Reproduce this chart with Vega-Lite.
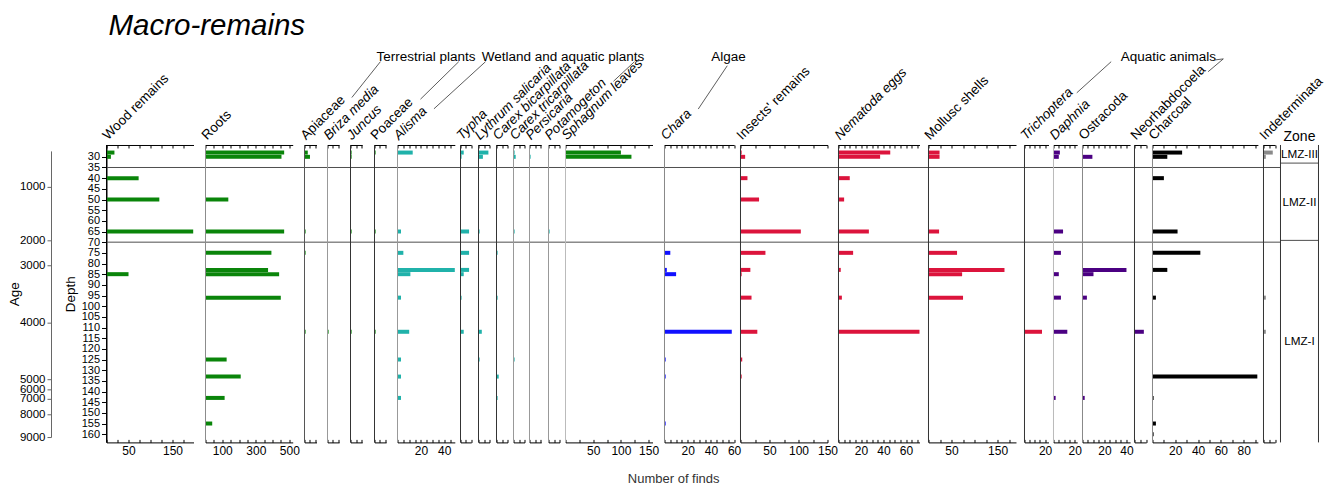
{
  "$schema": "https://vega.github.io/schema/vega-lite/v6.json",
  "background": "white",
  "padding": {"left": 6.5, "top": 11, "right": 0, "bottom": 0},
  "title": {"text": "Macro-remains", "anchor": "start", "frame": "group", "dx": 57, "offset": 8, "fontSize": 29.5, "fontStyle": "italic", "fontWeight": "normal", "font": "Liberation Sans", "color": "#000"},
  "spacing": 0,
  "bounds": "flush",
  "datasets": {
    "finds": [
      {"taxon": "Wood remains", "depth": 28, "count": 18}, {"taxon": "Wood remains", "depth": 30, "count": 10}, {"taxon": "Wood remains", "depth": 40, "count": 73}, {"taxon": "Wood remains", "depth": 50, "count": 120}, {"taxon": "Wood remains", "depth": 65, "count": 197}, {"taxon": "Wood remains", "depth": 85, "count": 50},
      {"taxon": "Roots", "depth": 28, "count": 469}, {"taxon": "Roots", "depth": 30, "count": 453}, {"taxon": "Roots", "depth": 50, "count": 136}, {"taxon": "Roots", "depth": 65, "count": 469}, {"taxon": "Roots", "depth": 75, "count": 393}, {"taxon": "Roots", "depth": 83, "count": 373}, {"taxon": "Roots", "depth": 85, "count": 439}, {"taxon": "Roots", "depth": 96, "count": 449}, {"taxon": "Roots", "depth": 125, "count": 126}, {"taxon": "Roots", "depth": 133, "count": 210}, {"taxon": "Roots", "depth": 143, "count": 114}, {"taxon": "Roots", "depth": 155, "count": 40},
      {"taxon": "Apiaceae", "depth": 28, "count": 3}, {"taxon": "Apiaceae", "depth": 30, "count": 5}, {"taxon": "Apiaceae", "depth": 65, "count": 1}, {"taxon": "Apiaceae", "depth": 75, "count": 1}, {"taxon": "Apiaceae", "depth": 112, "count": 1},
      {"taxon": "Briza media", "depth": 112, "count": 1},
      {"taxon": "Juncus", "depth": 28, "count": 1}, {"taxon": "Juncus", "depth": 30, "count": 1}, {"taxon": "Juncus", "depth": 65, "count": 1}, {"taxon": "Juncus", "depth": 112, "count": 1},
      {"taxon": "Poaceae", "depth": 28, "count": 1}, {"taxon": "Poaceae", "depth": 65, "count": 1}, {"taxon": "Poaceae", "depth": 112, "count": 1},
      {"taxon": "Alisma", "depth": 28, "count": 13}, {"taxon": "Alisma", "depth": 65, "count": 3}, {"taxon": "Alisma", "depth": 75, "count": 5}, {"taxon": "Alisma", "depth": 83, "count": 49}, {"taxon": "Alisma", "depth": 85, "count": 11}, {"taxon": "Alisma", "depth": 96, "count": 3}, {"taxon": "Alisma", "depth": 112, "count": 10}, {"taxon": "Alisma", "depth": 125, "count": 3}, {"taxon": "Alisma", "depth": 133, "count": 3}, {"taxon": "Alisma", "depth": 143, "count": 3},
      {"taxon": "Typha", "depth": 28, "count": 3}, {"taxon": "Typha", "depth": 30, "count": 1}, {"taxon": "Typha", "depth": 65, "count": 8}, {"taxon": "Typha", "depth": 75, "count": 8}, {"taxon": "Typha", "depth": 83, "count": 8}, {"taxon": "Typha", "depth": 85, "count": 3}, {"taxon": "Typha", "depth": 96, "count": 1}, {"taxon": "Typha", "depth": 112, "count": 3},
      {"taxon": "Lythrum salicaria", "depth": 28, "count": 9}, {"taxon": "Lythrum salicaria", "depth": 30, "count": 4}, {"taxon": "Lythrum salicaria", "depth": 65, "count": 1}, {"taxon": "Lythrum salicaria", "depth": 112, "count": 3}, {"taxon": "Lythrum salicaria", "depth": 125, "count": 1},
      {"taxon": "Carex bicarpillata", "depth": 75, "count": 1}, {"taxon": "Carex bicarpillata", "depth": 96, "count": 1}, {"taxon": "Carex bicarpillata", "depth": 133, "count": 2}, {"taxon": "Carex bicarpillata", "depth": 143, "count": 1},
      {"taxon": "Carex tricarpillata", "depth": 28, "count": 1}, {"taxon": "Carex tricarpillata", "depth": 30, "count": 2}, {"taxon": "Carex tricarpillata", "depth": 65, "count": 1}, {"taxon": "Carex tricarpillata", "depth": 125, "count": 1},
      {"taxon": "Persicaria", "depth": 30, "count": 1},
      {"taxon": "Potamogeton", "depth": 65, "count": 1},
      {"taxon": "Sphagnum leaves", "depth": 28, "count": 100}, {"taxon": "Sphagnum leaves", "depth": 30, "count": 119},
      {"taxon": "Chara", "depth": 75, "count": 5}, {"taxon": "Chara", "depth": 83, "count": 2}, {"taxon": "Chara", "depth": 85, "count": 10}, {"taxon": "Chara", "depth": 112, "count": 58}, {"taxon": "Chara", "depth": 125, "count": 1}, {"taxon": "Chara", "depth": 133, "count": 1}, {"taxon": "Chara", "depth": 155, "count": 1},
      {"taxon": "Insects' remains", "depth": 28, "count": 2}, {"taxon": "Insects' remains", "depth": 30, "count": 8}, {"taxon": "Insects' remains", "depth": 40, "count": 12}, {"taxon": "Insects' remains", "depth": 50, "count": 32}, {"taxon": "Insects' remains", "depth": 65, "count": 104}, {"taxon": "Insects' remains", "depth": 75, "count": 43}, {"taxon": "Insects' remains", "depth": 83, "count": 17}, {"taxon": "Insects' remains", "depth": 85, "count": 2}, {"taxon": "Insects' remains", "depth": 96, "count": 19}, {"taxon": "Insects' remains", "depth": 112, "count": 29}, {"taxon": "Insects' remains", "depth": 125, "count": 3}, {"taxon": "Insects' remains", "depth": 133, "count": 2},
      {"taxon": "Nematoda eggs", "depth": 28, "count": 46}, {"taxon": "Nematoda eggs", "depth": 30, "count": 37}, {"taxon": "Nematoda eggs", "depth": 40, "count": 10}, {"taxon": "Nematoda eggs", "depth": 50, "count": 5}, {"taxon": "Nematoda eggs", "depth": 65, "count": 27}, {"taxon": "Nematoda eggs", "depth": 75, "count": 13}, {"taxon": "Nematoda eggs", "depth": 83, "count": 2}, {"taxon": "Nematoda eggs", "depth": 96, "count": 3}, {"taxon": "Nematoda eggs", "depth": 112, "count": 72},
      {"taxon": "Mollusc shells", "depth": 28, "count": 24}, {"taxon": "Mollusc shells", "depth": 30, "count": 24}, {"taxon": "Mollusc shells", "depth": 65, "count": 23}, {"taxon": "Mollusc shells", "depth": 75, "count": 62}, {"taxon": "Mollusc shells", "depth": 83, "count": 165}, {"taxon": "Mollusc shells", "depth": 85, "count": 73}, {"taxon": "Mollusc shells", "depth": 96, "count": 75},
      {"taxon": "Trichoptera", "depth": 112, "count": 17},
      {"taxon": "Daphnia", "depth": 28, "count": 6}, {"taxon": "Daphnia", "depth": 30, "count": 5}, {"taxon": "Daphnia", "depth": 65, "count": 9}, {"taxon": "Daphnia", "depth": 75, "count": 7}, {"taxon": "Daphnia", "depth": 85, "count": 5}, {"taxon": "Daphnia", "depth": 96, "count": 7}, {"taxon": "Daphnia", "depth": 112, "count": 13}, {"taxon": "Daphnia", "depth": 143, "count": 2},
      {"taxon": "Ostracoda", "depth": 30, "count": 9}, {"taxon": "Ostracoda", "depth": 83, "count": 40}, {"taxon": "Ostracoda", "depth": 85, "count": 10}, {"taxon": "Ostracoda", "depth": 96, "count": 4}, {"taxon": "Ostracoda", "depth": 143, "count": 2},
      {"taxon": "Neorhabdocoela", "depth": 112, "count": 8},
      {"taxon": "Charcoal", "depth": 28, "count": 26}, {"taxon": "Charcoal", "depth": 30, "count": 13}, {"taxon": "Charcoal", "depth": 40, "count": 10}, {"taxon": "Charcoal", "depth": 65, "count": 22}, {"taxon": "Charcoal", "depth": 75, "count": 42}, {"taxon": "Charcoal", "depth": 83, "count": 13}, {"taxon": "Charcoal", "depth": 96, "count": 3}, {"taxon": "Charcoal", "depth": 133, "count": 92}, {"taxon": "Charcoal", "depth": 143, "count": 1}, {"taxon": "Charcoal", "depth": 155, "count": 3}, {"taxon": "Charcoal", "depth": 160, "count": 1},
      {"taxon": "Indeterminata", "depth": 28, "count": 8}, {"taxon": "Indeterminata", "depth": 30, "count": 2}, {"taxon": "Indeterminata", "depth": 96, "count": 2}, {"taxon": "Indeterminata", "depth": 112, "count": 2}
    ],
    "ages": [
      {"age": 1000, "depth": 46.0}, {"age": 2000, "depth": 70.2}, {"age": 3000, "depth": 81.5}, {"age": 4000, "depth": 107.5}, {"age": 5000, "depth": 133.1}, {"age": 6000, "depth": 137.7}, {"age": 7000, "depth": 142.0}, {"age": 8000, "depth": 149.0}, {"age": 9000, "depth": 159.3}
    ],
    "zones": [
      {"zone": "LMZ-III", "top": 26.8, "mid": 31}, {"zone": "LMZ-II", "top": 35, "mid": 52.5}, {"zone": "LMZ-I", "top": 70, "mid": 115.7}
    ]
  },
  "config": {
    "font": "Liberation Sans",
    "view": {"stroke": null},
    "axis": {"domainColor": "#000", "tickColor": "#000", "labelColor": "#000", "labelFont": "Liberation Sans", "labelFontSize": 12, "titleFont": "Liberation Sans", "titleFontWeight": "normal", "titleColor": "#000", "grid": false, "labelOverlap": false, "labelFlush": false, "domainWidth": 1, "tickWidth": 1},
    "axisBottom": {"tickSize": -3, "labelPadding": 6, "labelOverlap": false},
    "axisTop": {"tickSize": -3, "labels": false, "titleAngle": -45, "titleAlign": "left", "titleBaseline": "alphabetic", "titleX": 1, "titleY": -5, "titleFontSize": 13.5}
  },
  "hconcat": [
    {
      "width": 55, "height": 297.4, "data": {"name": "ages"},
      "layer": [
        {"mark": {"type": "rule", "color": "#666"},
         "encoding": {"x": {"datum": 0, "type": "quantitative", "scale": {"domain": [0, 55], "range": [0, 55], "nice": false}, "axis": null}, "x2": {"datum": -4},
                      "y": {"field": "depth", "type": "quantitative", "scale": {"domain": [26.8, 161.5], "reverse": true, "nice": false, "zero": false}, "axis": {"title": "Age", "labels": false, "ticks": false, "domain": false, "titlePadding": 30.5, "titleFontSize": 13.5}}}},
        {"mark": {"type": "text", "align": "right", "baseline": "middle", "dx": -6, "fontSize": 11.5, "color": "#000"},
         "encoding": {"x": {"datum": 0, "type": "quantitative", "axis": null}, "y": {"field": "depth", "type": "quantitative"}, "text": {"field": "age", "type": "quantitative", "format": "d"}}},
        {"data": {"values": [{}]}, "mark": {"type": "rule", "color": "#666"},
         "encoding": {"x": {"datum": 0, "type": "quantitative", "axis": null}, "y": {"datum": 29.7, "type": "quantitative"}, "y2": {"datum": 159.3}}}
      ]
    },
    {
      "width": 99, "height": 297.4, "data": {"name": "finds"},
      "layer": [
        {"transform": [{"filter": {"field": "taxon", "equal": "Wood remains"}}], "mark": {"type": "bar", "orient": "horizontal", "size": 4, "color": "#0a850a"},
         "encoding": {"x": {"field": "count", "type": "quantitative", "scale": {"domain": [0, 197.7], "range": [0, 87], "nice": false}, "axis": {"orient": "bottom", "values": [0, 25, 50, 75, 100, 125, 150, 175], "labelExpr": "indexof([50,150], datum.value) >= 0 ? datum.label : ''", "title": null}},
                      "y": {"field": "depth", "type": "quantitative", "scale": {"domain": [26.8, 161.5], "reverse": true, "nice": false, "zero": false}, "axis": {"values": [30, 35, 40, 45, 50, 55, 60, 65, 70, 75, 80, 85, 90, 95, 100, 105, 110, 115, 120, 125, 130, 135, 140, 145, 150, 155, 160], "tickCount": 100, "labelOverlap": false, "labelFontSize": 11, "tickSize": 5, "labelPadding": 2, "title": "Depth", "titlePadding": 4, "titleFontSize": 13.5}}}},
        {"data": {"name": "zones"}, "transform": [{"filter": "datum.top > 30"}], "mark": {"type": "rule", "color": "#4d4d4d"}, "encoding": {"y": {"field": "top", "type": "quantitative"}}},
        {"data": {"values": [{}]}, "mark": {"type": "rule", "color": "#000"},
         "encoding": {"x": {"datum": 0, "type": "quantitative", "axis": {"orient": "top", "values": [0, 25, 50, 75, 100, 125, 150, 175], "title": "Wood remains"}}}}
      ],
      "resolve": {"axis": {"x": "independent"}}
    },
    {
      "width": 99, "height": 297.4, "data": {"name": "finds"},
      "layer": [
        {"transform": [{"filter": {"field": "taxon", "equal": "Roots"}}], "mark": {"type": "bar", "orient": "horizontal", "size": 4, "color": "#0a850a"},
         "encoding": {"x": {"field": "count", "type": "quantitative", "scale": {"domain": [0, 520], "range": [0, 87.2], "nice": false}, "axis": {"orient": "bottom", "values": [0, 50, 100, 150, 200, 250, 300, 350, 400, 450, 500], "labelExpr": "indexof([100,300,500], datum.value) >= 0 ? datum.label : ''", "title": null}},
                      "y": {"field": "depth", "type": "quantitative", "scale": {"domain": [26.8, 161.5], "reverse": true, "nice": false, "zero": false}, "axis": null}}},
        {"data": {"name": "zones"}, "transform": [{"filter": "datum.top > 30"}], "mark": {"type": "rule", "color": "#4d4d4d"}, "encoding": {"y": {"field": "top", "type": "quantitative"}}},
        {"data": {"values": [{}]}, "mark": {"type": "rule", "color": "#8c8c8c"},
         "encoding": {"x": {"datum": 0, "type": "quantitative", "axis": {"orient": "top", "values": [0, 50, 100, 150, 200, 250, 300, 350, 400, 450, 500], "title": "Roots"}}}}
      ],
      "resolve": {"axis": {"x": "independent"}}
    },
    {
      "width": 23, "height": 297.4, "data": {"name": "finds"},
      "layer": [
        {"transform": [{"filter": {"field": "taxon", "equal": "Apiaceae"}}], "mark": {"type": "bar", "orient": "horizontal", "size": 4, "color": "#0a850a"},
         "encoding": {"x": {"field": "count", "type": "quantitative", "scale": {"domain": [0, 11], "range": [0, 12], "nice": false}, "axis": {"orient": "bottom", "values": [0, 5, 10], "labels": false, "title": null}},
                      "y": {"field": "depth", "type": "quantitative", "scale": {"domain": [26.8, 161.5], "reverse": true, "nice": false, "zero": false}, "axis": null}}},
        {"data": {"name": "zones"}, "transform": [{"filter": "datum.top > 30"}], "mark": {"type": "rule", "color": "#4d4d4d"}, "encoding": {"y": {"field": "top", "type": "quantitative"}}},
        {"data": {"values": [{}]}, "mark": {"type": "rule", "color": "#555"},
         "encoding": {"x": {"datum": 0, "type": "quantitative", "axis": {"orient": "top", "values": [0, 5, 10], "title": "Apiaceae"}}}}
      ],
      "resolve": {"axis": {"x": "independent"}}
    },
    {
      "width": 23, "height": 297.4, "data": {"name": "finds"},
      "layer": [
        {"transform": [{"filter": {"field": "taxon", "equal": "Briza media"}}], "mark": {"type": "bar", "orient": "horizontal", "size": 4, "color": "#0a850a"},
         "encoding": {"x": {"field": "count", "type": "quantitative", "scale": {"domain": [0, 10.6], "range": [0, 11.6], "nice": false}, "axis": {"orient": "bottom", "values": [0, 5, 10], "labels": false, "title": null}},
                      "y": {"field": "depth", "type": "quantitative", "scale": {"domain": [26.8, 161.5], "reverse": true, "nice": false, "zero": false}, "axis": null}}},
        {"data": {"name": "zones"}, "transform": [{"filter": "datum.top > 30"}], "mark": {"type": "rule", "color": "#4d4d4d"}, "encoding": {"y": {"field": "top", "type": "quantitative"}}},
        {"data": {"values": [{}]}, "mark": {"type": "rule", "color": "#999"},
         "encoding": {"x": {"datum": 0, "type": "quantitative", "axis": {"orient": "top", "values": [0, 5, 10], "title": "Briza media", "titleFontStyle": "italic"}}}}
      ],
      "resolve": {"axis": {"x": "independent"}}
    },
    {
      "width": 24, "height": 297.4, "data": {"name": "finds"},
      "layer": [
        {"transform": [{"filter": {"field": "taxon", "equal": "Juncus"}}], "mark": {"type": "bar", "orient": "horizontal", "size": 4, "color": "#0a850a"},
         "encoding": {"x": {"field": "count", "type": "quantitative", "scale": {"domain": [0, 10.6], "range": [0, 11.7], "nice": false}, "axis": {"orient": "bottom", "values": [0, 5, 10], "labels": false, "title": null}},
                      "y": {"field": "depth", "type": "quantitative", "scale": {"domain": [26.8, 161.5], "reverse": true, "nice": false, "zero": false}, "axis": null}}},
        {"data": {"name": "zones"}, "transform": [{"filter": "datum.top > 30"}], "mark": {"type": "rule", "color": "#4d4d4d"}, "encoding": {"y": {"field": "top", "type": "quantitative"}}},
        {"data": {"values": [{}]}, "mark": {"type": "rule", "color": "#333"},
         "encoding": {"x": {"datum": 0, "type": "quantitative", "axis": {"orient": "top", "values": [0, 5, 10], "title": "Juncus", "titleFontStyle": "italic"}}}}
      ],
      "resolve": {"axis": {"x": "independent"}}
    },
    {
      "width": 23, "height": 297.4, "data": {"name": "finds"},
      "layer": [
        {"transform": [{"filter": {"field": "taxon", "equal": "Poaceae"}}], "mark": {"type": "bar", "orient": "horizontal", "size": 4, "color": "#0a850a"},
         "encoding": {"x": {"field": "count", "type": "quantitative", "scale": {"domain": [0, 10.6], "range": [0, 11.6], "nice": false}, "axis": {"orient": "bottom", "values": [0, 5, 10], "labels": false, "title": null}},
                      "y": {"field": "depth", "type": "quantitative", "scale": {"domain": [26.8, 161.5], "reverse": true, "nice": false, "zero": false}, "axis": null}}},
        {"data": {"name": "zones"}, "transform": [{"filter": "datum.top > 30"}], "mark": {"type": "rule", "color": "#4d4d4d"}, "encoding": {"y": {"field": "top", "type": "quantitative"}}},
        {"data": {"values": [{}]}, "mark": {"type": "rule", "color": "#333"},
         "encoding": {"x": {"datum": 0, "type": "quantitative", "axis": {"orient": "top", "values": [0, 5, 10], "title": "Poaceae"}}}},
        {"data": {"values": [{}]}, "mark": {"type": "text", "align": "left", "baseline": "alphabetic", "fontSize": 13.5, "color": "#000", "text": "Terrestrial plants"},
         "encoding": {"x": {"datum": 1.9, "type": "quantitative", "axis": null}, "y": {"datum": -15.0, "type": "quantitative"}}},
        {"data": {"values": [{}]}, "mark": {"type": "rule", "color": "#333", "strokeWidth": 0.8},
         "encoding": {"x": {"datum": 5.4, "type": "quantitative", "axis": null}, "x2": {"datum": -20.7}, "y": {"datum": -14.6, "type": "quantitative"}, "y2": {"datum": 2.2}}},
        {"data": {"values": [{}]}, "mark": {"type": "rule", "color": "#333", "strokeWidth": 0.8},
         "encoding": {"x": {"datum": 77.0, "type": "quantitative", "axis": null}, "x2": {"datum": 42.0}, "y": {"datum": -14.6, "type": "quantitative"}, "y2": {"datum": 3.0}}}
      ],
      "resolve": {"axis": {"x": "independent"}}
    },
    {
      "width": 63, "height": 297.4, "data": {"name": "finds"},
      "layer": [
        {"transform": [{"filter": {"field": "taxon", "equal": "Alisma"}}], "mark": {"type": "bar", "orient": "horizontal", "size": 4, "color": "#20b2aa"},
         "encoding": {"x": {"field": "count", "type": "quantitative", "scale": {"domain": [0, 49], "range": [0, 57.3], "nice": false}, "axis": {"orient": "bottom", "values": [0, 5, 10, 15, 20, 25, 30, 35, 40, 45], "labelExpr": "indexof([20,40], datum.value) >= 0 ? datum.label : ''", "title": null}},
                      "y": {"field": "depth", "type": "quantitative", "scale": {"domain": [26.8, 161.5], "reverse": true, "nice": false, "zero": false}, "axis": null}}},
        {"data": {"name": "zones"}, "transform": [{"filter": "datum.top > 30"}], "mark": {"type": "rule", "color": "#4d4d4d"}, "encoding": {"y": {"field": "top", "type": "quantitative"}}},
        {"data": {"values": [{}]}, "mark": {"type": "rule", "color": "#999"},
         "encoding": {"x": {"datum": 0, "type": "quantitative", "axis": {"orient": "top", "values": [0, 5, 10, 15, 20, 25, 30, 35, 40, 45], "title": "Alisma", "titleFontStyle": "italic"}}}}
      ],
      "resolve": {"axis": {"x": "independent"}}
    },
    {
      "width": 18, "height": 297.4, "data": {"name": "finds"},
      "layer": [
        {"transform": [{"filter": {"field": "taxon", "equal": "Typha"}}], "mark": {"type": "bar", "orient": "horizontal", "size": 4, "color": "#20b2aa"},
         "encoding": {"x": {"field": "count", "type": "quantitative", "scale": {"domain": [0, 10], "range": [0, 10.7], "nice": false}, "axis": {"orient": "bottom", "values": [0, 5, 10], "labels": false, "title": null}},
                      "y": {"field": "depth", "type": "quantitative", "scale": {"domain": [26.8, 161.5], "reverse": true, "nice": false, "zero": false}, "axis": null}}},
        {"data": {"name": "zones"}, "transform": [{"filter": "datum.top > 30"}], "mark": {"type": "rule", "color": "#4d4d4d"}, "encoding": {"y": {"field": "top", "type": "quantitative"}}},
        {"data": {"values": [{}]}, "mark": {"type": "rule", "color": "#333"},
         "encoding": {"x": {"datum": 0, "type": "quantitative", "axis": {"orient": "top", "values": [0, 5, 10], "title": "Typha", "titleFontStyle": "italic"}}}}
      ],
      "resolve": {"axis": {"x": "independent"}}
    },
    {
      "width": 18, "height": 297.4, "data": {"name": "finds"},
      "layer": [
        {"transform": [{"filter": {"field": "taxon", "equal": "Lythrum salicaria"}}], "mark": {"type": "bar", "orient": "horizontal", "size": 4, "color": "#20b2aa"},
         "encoding": {"x": {"field": "count", "type": "quantitative", "scale": {"domain": [0, 10], "range": [0, 11], "nice": false}, "axis": {"orient": "bottom", "values": [0, 5, 10], "labels": false, "title": null}},
                      "y": {"field": "depth", "type": "quantitative", "scale": {"domain": [26.8, 161.5], "reverse": true, "nice": false, "zero": false}, "axis": null}}},
        {"data": {"name": "zones"}, "transform": [{"filter": "datum.top > 30"}], "mark": {"type": "rule", "color": "#4d4d4d"}, "encoding": {"y": {"field": "top", "type": "quantitative"}}},
        {"data": {"values": [{}]}, "mark": {"type": "rule", "color": "#333"},
         "encoding": {"x": {"datum": 0, "type": "quantitative", "axis": {"orient": "top", "values": [0, 5, 10], "title": "Lythrum salicaria", "titleFontStyle": "italic"}}}},
        {"data": {"values": [{}]}, "mark": {"type": "text", "align": "left", "baseline": "alphabetic", "fontSize": 13.5, "color": "#000", "text": "Wetland and aquatic plants"},
         "encoding": {"x": {"datum": 2.9, "type": "quantitative", "axis": null}, "y": {"datum": -15.0, "type": "quantitative"}}},
        {"data": {"values": [{}]}, "mark": {"type": "rule", "color": "#333", "strokeWidth": 0.8},
         "encoding": {"x": {"datum": 6.4, "type": "quantitative", "axis": null}, "x2": {"datum": -40.5}, "y": {"datum": -14.6, "type": "quantitative"}, "y2": {"datum": 7.5}}},
        {"data": {"values": [{}]}, "mark": {"type": "rule", "color": "#333", "strokeWidth": 0.8},
         "encoding": {"x": {"datum": 141.8, "type": "quantitative", "axis": null}, "x2": {"datum": 122.7}, "y": {"datum": -14.6, "type": "quantitative"}, "y2": {"datum": -5.4}}}
      ],
      "resolve": {"axis": {"x": "independent"}}
    },
    {
      "width": 17, "height": 297.4, "data": {"name": "finds"},
      "layer": [
        {"transform": [{"filter": {"field": "taxon", "equal": "Carex bicarpillata"}}], "mark": {"type": "bar", "orient": "horizontal", "size": 4, "color": "#20b2aa"},
         "encoding": {"x": {"field": "count", "type": "quantitative", "scale": {"domain": [0, 10], "range": [0, 11], "nice": false}, "axis": {"orient": "bottom", "values": [0, 5, 10], "labels": false, "title": null}},
                      "y": {"field": "depth", "type": "quantitative", "scale": {"domain": [26.8, 161.5], "reverse": true, "nice": false, "zero": false}, "axis": null}}},
        {"data": {"name": "zones"}, "transform": [{"filter": "datum.top > 30"}], "mark": {"type": "rule", "color": "#4d4d4d"}, "encoding": {"y": {"field": "top", "type": "quantitative"}}},
        {"data": {"values": [{}]}, "mark": {"type": "rule", "color": "#333"},
         "encoding": {"x": {"datum": 0, "type": "quantitative", "axis": {"orient": "top", "values": [0, 5, 10], "title": "Carex bicarpillata", "titleFontStyle": "italic"}}}}
      ],
      "resolve": {"axis": {"x": "independent"}}
    },
    {
      "width": 16, "height": 297.4, "data": {"name": "finds"},
      "layer": [
        {"transform": [{"filter": {"field": "taxon", "equal": "Carex tricarpillata"}}], "mark": {"type": "bar", "orient": "horizontal", "size": 4, "color": "#20b2aa"},
         "encoding": {"x": {"field": "count", "type": "quantitative", "scale": {"domain": [0, 10], "range": [0, 11], "nice": false}, "axis": {"orient": "bottom", "values": [0, 5, 10], "labels": false, "title": null}},
                      "y": {"field": "depth", "type": "quantitative", "scale": {"domain": [26.8, 161.5], "reverse": true, "nice": false, "zero": false}, "axis": null}}},
        {"data": {"name": "zones"}, "transform": [{"filter": "datum.top > 30"}], "mark": {"type": "rule", "color": "#4d4d4d"}, "encoding": {"y": {"field": "top", "type": "quantitative"}}},
        {"data": {"values": [{}]}, "mark": {"type": "rule", "color": "#999"},
         "encoding": {"x": {"datum": 0, "type": "quantitative", "axis": {"orient": "top", "values": [0, 5, 10], "title": "Carex tricarpillata", "titleFontStyle": "italic"}}}}
      ],
      "resolve": {"axis": {"x": "independent"}}
    },
    {
      "width": 19, "height": 297.4, "data": {"name": "finds"},
      "layer": [
        {"transform": [{"filter": {"field": "taxon", "equal": "Persicaria"}}], "mark": {"type": "bar", "orient": "horizontal", "size": 4, "color": "#20b2aa"},
         "encoding": {"x": {"field": "count", "type": "quantitative", "scale": {"domain": [0, 10.6], "range": [0, 11.7], "nice": false}, "axis": {"orient": "bottom", "values": [0, 5, 10], "labels": false, "title": null}},
                      "y": {"field": "depth", "type": "quantitative", "scale": {"domain": [26.8, 161.5], "reverse": true, "nice": false, "zero": false}, "axis": null}}},
        {"data": {"name": "zones"}, "transform": [{"filter": "datum.top > 30"}], "mark": {"type": "rule", "color": "#4d4d4d"}, "encoding": {"y": {"field": "top", "type": "quantitative"}}},
        {"data": {"values": [{}]}, "mark": {"type": "rule", "color": "#999"},
         "encoding": {"x": {"datum": 0, "type": "quantitative", "axis": {"orient": "top", "values": [0, 5, 10], "title": "Persicaria", "titleFontStyle": "italic"}}}}
      ],
      "resolve": {"axis": {"x": "independent"}}
    },
    {
      "width": 17, "height": 297.4, "data": {"name": "finds"},
      "layer": [
        {"transform": [{"filter": {"field": "taxon", "equal": "Potamogeton"}}], "mark": {"type": "bar", "orient": "horizontal", "size": 4, "color": "#20b2aa"},
         "encoding": {"x": {"field": "count", "type": "quantitative", "scale": {"domain": [0, 10], "range": [0, 11], "nice": false}, "axis": {"orient": "bottom", "values": [0, 5, 10], "labels": false, "title": null}},
                      "y": {"field": "depth", "type": "quantitative", "scale": {"domain": [26.8, 161.5], "reverse": true, "nice": false, "zero": false}, "axis": null}}},
        {"data": {"name": "zones"}, "transform": [{"filter": "datum.top > 30"}], "mark": {"type": "rule", "color": "#4d4d4d"}, "encoding": {"y": {"field": "top", "type": "quantitative"}}},
        {"data": {"values": [{}]}, "mark": {"type": "rule", "color": "#999"},
         "encoding": {"x": {"datum": 0, "type": "quantitative", "axis": {"orient": "top", "values": [0, 5, 10], "title": "Potamogeton", "titleFontStyle": "italic"}}}}
      ],
      "resolve": {"axis": {"x": "independent"}}
    },
    {
      "width": 99, "height": 297.4, "data": {"name": "finds"},
      "layer": [
        {"transform": [{"filter": {"field": "taxon", "equal": "Sphagnum leaves"}}], "mark": {"type": "bar", "orient": "horizontal", "size": 4, "color": "#0a850a"},
         "encoding": {"x": {"field": "count", "type": "quantitative", "scale": {"domain": [0, 157], "range": [0, 87], "nice": false}, "axis": {"orient": "bottom", "values": [0, 25, 50, 75, 100, 125, 150], "labelExpr": "indexof([50,100,150], datum.value) >= 0 ? datum.label : ''", "title": null}},
                      "y": {"field": "depth", "type": "quantitative", "scale": {"domain": [26.8, 161.5], "reverse": true, "nice": false, "zero": false}, "axis": null}}},
        {"data": {"name": "zones"}, "transform": [{"filter": "datum.top > 30"}], "mark": {"type": "rule", "color": "#4d4d4d"}, "encoding": {"y": {"field": "top", "type": "quantitative"}}},
        {"data": {"values": [{}]}, "mark": {"type": "rule", "color": "#bbb"},
         "encoding": {"x": {"datum": 0, "type": "quantitative", "axis": {"orient": "top", "values": [0, 25, 50, 75, 100, 125, 150], "title": "Sphagnum leaves", "titleFontStyle": "italic"}}}}
      ],
      "resolve": {"axis": {"x": "independent"}}
    },
    {
      "width": 76, "height": 297.4, "data": {"name": "finds"},
      "layer": [
        {"transform": [{"filter": {"field": "taxon", "equal": "Chara"}}], "mark": {"type": "bar", "orient": "horizontal", "size": 4, "color": "#1010ff"},
         "encoding": {"x": {"field": "count", "type": "quantitative", "scale": {"domain": [0, 60], "range": [0, 69.6], "nice": false}, "axis": {"orient": "bottom", "values": [0, 5, 10, 15, 20, 25, 30, 35, 40, 45, 50, 55, 60], "labelExpr": "indexof([20,40,60], datum.value) >= 0 ? datum.label : ''", "title": "Number of finds", "titleX": 8.7, "titleY": 36, "titleAlign": "center", "titleBaseline": "middle", "titleFontSize": 13, "titleColor": "#333"}},
                      "y": {"field": "depth", "type": "quantitative", "scale": {"domain": [26.8, 161.5], "reverse": true, "nice": false, "zero": false}, "axis": null}}},
        {"data": {"name": "zones"}, "transform": [{"filter": "datum.top > 30"}], "mark": {"type": "rule", "color": "#4d4d4d"}, "encoding": {"y": {"field": "top", "type": "quantitative"}}},
        {"data": {"values": [{}]}, "mark": {"type": "rule", "color": "#888"},
         "encoding": {"x": {"datum": 0, "type": "quantitative", "axis": {"orient": "top", "values": [0, 5, 10, 15, 20, 25, 30, 35, 40, 45, 50, 55, 60], "title": "Chara", "titleFontStyle": "italic"}}}},
        {"data": {"values": [{}]}, "mark": {"type": "text", "align": "left", "baseline": "alphabetic", "fontSize": 13.5, "color": "#000", "text": "Algae"},
         "encoding": {"x": {"datum": 40.3, "type": "quantitative", "axis": null}, "y": {"datum": -15.0, "type": "quantitative"}}},
        {"data": {"values": [{}]}, "mark": {"type": "rule", "color": "#333", "strokeWidth": 0.8},
         "encoding": {"x": {"datum": 54.1, "type": "quantitative", "axis": null}, "x2": {"datum": 29.1}, "y": {"datum": -12.7, "type": "quantitative"}, "y2": {"datum": 7.6}}}
      ],
      "resolve": {"axis": {"x": "independent"}}
    },
    {
      "width": 98, "height": 297.4, "data": {"name": "finds"},
      "layer": [
        {"transform": [{"filter": {"field": "taxon", "equal": "Insects' remains"}}], "mark": {"type": "bar", "orient": "horizontal", "size": 4, "color": "#dc143c"},
         "encoding": {"x": {"field": "count", "type": "quantitative", "scale": {"domain": [0, 150], "range": [0, 87], "nice": false}, "axis": {"orient": "bottom", "values": [0, 25, 50, 75, 100, 125, 150], "labelExpr": "indexof([50,100,150], datum.value) >= 0 ? datum.label : ''", "title": null}},
                      "y": {"field": "depth", "type": "quantitative", "scale": {"domain": [26.8, 161.5], "reverse": true, "nice": false, "zero": false}, "axis": null}}},
        {"data": {"name": "zones"}, "transform": [{"filter": "datum.top > 30"}], "mark": {"type": "rule", "color": "#4d4d4d"}, "encoding": {"y": {"field": "top", "type": "quantitative"}}},
        {"data": {"values": [{}]}, "mark": {"type": "rule", "color": "#333"},
         "encoding": {"x": {"datum": 0, "type": "quantitative", "axis": {"orient": "top", "values": [0, 25, 50, 75, 100, 125, 150], "title": "Insects' remains"}}}}
      ],
      "resolve": {"axis": {"x": "independent"}}
    },
    {
      "width": 90, "height": 297.4, "data": {"name": "finds"},
      "layer": [
        {"transform": [{"filter": {"field": "taxon", "equal": "Nematoda eggs"}}], "mark": {"type": "bar", "orient": "horizontal", "size": 4, "color": "#dc143c"},
         "encoding": {"x": {"field": "count", "type": "quantitative", "scale": {"domain": [0, 72], "range": [0, 81], "nice": false}, "axis": {"orient": "bottom", "values": [0, 5, 10, 15, 20, 25, 30, 35, 40, 45, 50, 55, 60, 65, 70], "labelExpr": "indexof([20,40,60], datum.value) >= 0 ? datum.label : ''", "title": null}},
                      "y": {"field": "depth", "type": "quantitative", "scale": {"domain": [26.8, 161.5], "reverse": true, "nice": false, "zero": false}, "axis": null}}},
        {"data": {"name": "zones"}, "transform": [{"filter": "datum.top > 30"}], "mark": {"type": "rule", "color": "#4d4d4d"}, "encoding": {"y": {"field": "top", "type": "quantitative"}}},
        {"data": {"values": [{}]}, "mark": {"type": "rule", "color": "#333"},
         "encoding": {"x": {"datum": 0, "type": "quantitative", "axis": {"orient": "top", "values": [0, 5, 10, 15, 20, 25, 30, 35, 40, 45, 50, 55, 60, 65, 70], "title": "Nematoda eggs", "titleFontStyle": "italic"}}}}
      ],
      "resolve": {"axis": {"x": "independent"}}
    },
    {
      "width": 96, "height": 297.4, "data": {"name": "finds"},
      "layer": [
        {"transform": [{"filter": {"field": "taxon", "equal": "Mollusc shells"}}], "mark": {"type": "bar", "orient": "horizontal", "size": 4, "color": "#dc143c"},
         "encoding": {"x": {"field": "count", "type": "quantitative", "scale": {"domain": [0, 190], "range": [0, 87.5], "nice": false}, "axis": {"orient": "bottom", "values": [0, 25, 50, 75, 100, 125, 150, 175], "labelExpr": "indexof([50,150], datum.value) >= 0 ? datum.label : ''", "title": null}},
                      "y": {"field": "depth", "type": "quantitative", "scale": {"domain": [26.8, 161.5], "reverse": true, "nice": false, "zero": false}, "axis": null}}},
        {"data": {"name": "zones"}, "transform": [{"filter": "datum.top > 30"}], "mark": {"type": "rule", "color": "#4d4d4d"}, "encoding": {"y": {"field": "top", "type": "quantitative"}}},
        {"data": {"values": [{}]}, "mark": {"type": "rule", "color": "#333"},
         "encoding": {"x": {"datum": 0, "type": "quantitative", "axis": {"orient": "top", "values": [0, 25, 50, 75, 100, 125, 150, 175], "title": "Mollusc shells"}}}}
      ],
      "resolve": {"axis": {"x": "independent"}}
    },
    {
      "width": 29, "height": 297.4, "data": {"name": "finds"},
      "layer": [
        {"transform": [{"filter": {"field": "taxon", "equal": "Trichoptera"}}], "mark": {"type": "bar", "orient": "horizontal", "size": 4, "color": "#dc143c"},
         "encoding": {"x": {"field": "count", "type": "quantitative", "scale": {"domain": [0, 23.3], "range": [0, 24], "nice": false}, "axis": {"orient": "bottom", "values": [0, 5, 10, 15, 20], "labelExpr": "datum.value == 20 ? datum.label : ''", "title": null}},
                      "y": {"field": "depth", "type": "quantitative", "scale": {"domain": [26.8, 161.5], "reverse": true, "nice": false, "zero": false}, "axis": null}}},
        {"data": {"name": "zones"}, "transform": [{"filter": "datum.top > 30"}], "mark": {"type": "rule", "color": "#4d4d4d"}, "encoding": {"y": {"field": "top", "type": "quantitative"}}},
        {"data": {"values": [{}]}, "mark": {"type": "rule", "color": "#333"},
         "encoding": {"x": {"datum": 0, "type": "quantitative", "axis": {"orient": "top", "values": [0, 5, 10, 15, 20], "title": "Trichoptera", "titleFontStyle": "italic"}}}}
      ],
      "resolve": {"axis": {"x": "independent"}}
    },
    {
      "width": 29, "height": 297.4, "data": {"name": "finds"},
      "layer": [
        {"transform": [{"filter": {"field": "taxon", "equal": "Daphnia"}}], "mark": {"type": "bar", "orient": "horizontal", "size": 4, "color": "#4b0082"},
         "encoding": {"x": {"field": "count", "type": "quantitative", "scale": {"domain": [0, 22.3], "range": [0, 23.7], "nice": false}, "axis": {"orient": "bottom", "values": [0, 5, 10, 15, 20], "labelExpr": "datum.value == 20 ? datum.label : ''", "title": null}},
                      "y": {"field": "depth", "type": "quantitative", "scale": {"domain": [26.8, 161.5], "reverse": true, "nice": false, "zero": false}, "axis": null}}},
        {"data": {"name": "zones"}, "transform": [{"filter": "datum.top > 30"}], "mark": {"type": "rule", "color": "#4d4d4d"}, "encoding": {"y": {"field": "top", "type": "quantitative"}}},
        {"data": {"values": [{}]}, "mark": {"type": "rule", "color": "#bbb"},
         "encoding": {"x": {"datum": 0, "type": "quantitative", "axis": {"orient": "top", "values": [0, 5, 10, 15, 20], "title": "Daphnia", "titleFontStyle": "italic"}}}}
      ],
      "resolve": {"axis": {"x": "independent"}}
    },
    {
      "width": 52, "height": 297.4, "data": {"name": "finds"},
      "layer": [
        {"transform": [{"filter": {"field": "taxon", "equal": "Ostracoda"}}], "mark": {"type": "bar", "orient": "horizontal", "size": 4, "color": "#4b0082"},
         "encoding": {"x": {"field": "count", "type": "quantitative", "scale": {"domain": [0, 43.3], "range": [0, 47.6], "nice": false}, "axis": {"orient": "bottom", "values": [0, 5, 10, 15, 20, 25, 30, 35, 40], "labelExpr": "indexof([20,40], datum.value) >= 0 ? datum.label : ''", "title": null}},
                      "y": {"field": "depth", "type": "quantitative", "scale": {"domain": [26.8, 161.5], "reverse": true, "nice": false, "zero": false}, "axis": null}}},
        {"data": {"name": "zones"}, "transform": [{"filter": "datum.top > 30"}], "mark": {"type": "rule", "color": "#4d4d4d"}, "encoding": {"y": {"field": "top", "type": "quantitative"}}},
        {"data": {"values": [{}]}, "mark": {"type": "rule", "color": "#888"},
         "encoding": {"x": {"datum": 0, "type": "quantitative", "axis": {"orient": "top", "values": [0, 5, 10, 15, 20, 25, 30, 35, 40], "title": "Ostracoda"}}}},
        {"data": {"values": [{}]}, "mark": {"type": "text", "align": "left", "baseline": "alphabetic", "fontSize": 13.5, "color": "#000", "text": "Aquatic animals"},
         "encoding": {"x": {"datum": 34.8, "type": "quantitative", "axis": null}, "y": {"datum": -15.0, "type": "quantitative"}}},
        {"data": {"values": [{}]}, "mark": {"type": "rule", "color": "#333", "strokeWidth": 0.8},
         "encoding": {"x": {"datum": 26.1, "type": "quantitative", "axis": null}, "x2": {"datum": -5.2}, "y": {"datum": -14.6, "type": "quantitative"}, "y2": {"datum": 0.0}}},
        {"data": {"values": [{}]}, "mark": {"type": "rule", "color": "#333", "strokeWidth": 0.8},
         "encoding": {"x": {"datum": 120.3, "type": "quantitative", "axis": null}, "x2": {"datum": 128.1}, "y": {"datum": -15.4, "type": "quantitative"}, "y2": {"datum": -15.9}}},
        {"data": {"values": [{}]}, "mark": {"type": "rule", "color": "#333", "strokeWidth": 0.8},
         "encoding": {"x": {"datum": 128.1, "type": "quantitative", "axis": null}, "x2": {"datum": 114.3}, "y": {"datum": -15.9, "type": "quantitative"}, "y2": {"datum": -9.9}}}
      ],
      "resolve": {"axis": {"x": "independent"}}
    },
    {
      "width": 18, "height": 297.4, "data": {"name": "finds"},
      "layer": [
        {"transform": [{"filter": {"field": "taxon", "equal": "Neorhabdocoela"}}], "mark": {"type": "bar", "orient": "horizontal", "size": 4, "color": "#4b0082"},
         "encoding": {"x": {"field": "count", "type": "quantitative", "scale": {"domain": [0, 10], "range": [0, 11.7], "nice": false}, "axis": {"orient": "bottom", "values": [0, 5, 10], "labels": false, "title": null}},
                      "y": {"field": "depth", "type": "quantitative", "scale": {"domain": [26.8, 161.5], "reverse": true, "nice": false, "zero": false}, "axis": null}}},
        {"data": {"name": "zones"}, "transform": [{"filter": "datum.top > 30"}], "mark": {"type": "rule", "color": "#4d4d4d"}, "encoding": {"y": {"field": "top", "type": "quantitative"}}},
        {"data": {"values": [{}]}, "mark": {"type": "rule", "color": "#333"},
         "encoding": {"x": {"datum": 0, "type": "quantitative", "axis": {"orient": "top", "values": [0, 5, 10], "title": "Neorhabdocoela"}}}}
      ],
      "resolve": {"axis": {"x": "independent"}}
    },
    {
      "width": 111, "height": 297.4, "data": {"name": "finds"},
      "layer": [
        {"transform": [{"filter": {"field": "taxon", "equal": "Charcoal"}}], "mark": {"type": "bar", "orient": "horizontal", "size": 4, "color": "#000"},
         "encoding": {"x": {"field": "count", "type": "quantitative", "scale": {"domain": [0, 92.5], "range": [0, 105.4], "nice": false}, "axis": {"orient": "bottom", "values": [0, 10, 20, 30, 40, 50, 60, 70, 80, 90], "labelExpr": "indexof([20,40,60,80], datum.value) >= 0 ? datum.label : ''", "title": null}},
                      "y": {"field": "depth", "type": "quantitative", "scale": {"domain": [26.8, 161.5], "reverse": true, "nice": false, "zero": false}, "axis": null}}},
        {"data": {"name": "zones"}, "transform": [{"filter": "datum.top > 30"}], "mark": {"type": "rule", "color": "#4d4d4d"}, "encoding": {"y": {"field": "top", "type": "quantitative"}}},
        {"data": {"values": [{}]}, "mark": {"type": "rule", "color": "#888"},
         "encoding": {"x": {"datum": 0, "type": "quantitative", "axis": {"orient": "top", "values": [0, 10, 20, 30, 40, 50, 60, 70, 80, 90], "title": "Charcoal"}}}}
      ],
      "resolve": {"axis": {"x": "independent"}}
    },
    {
      "width": 17, "height": 297.4, "data": {"name": "finds"},
      "layer": [
        {"transform": [{"filter": {"field": "taxon", "equal": "Indeterminata"}}], "mark": {"type": "bar", "orient": "horizontal", "size": 4, "color": "#8a8a8a"},
         "encoding": {"x": {"field": "count", "type": "quantitative", "scale": {"domain": [0, 10], "range": [0, 11.6], "nice": false}, "axis": {"orient": "bottom", "values": [0, 5, 10], "labels": false, "title": null}},
                      "y": {"field": "depth", "type": "quantitative", "scale": {"domain": [26.8, 161.5], "reverse": true, "nice": false, "zero": false}, "axis": null}}},
        {"data": {"name": "zones"}, "transform": [{"filter": "datum.top > 30"}], "mark": {"type": "rule", "color": "#4d4d4d"}, "encoding": {"y": {"field": "top", "type": "quantitative"}}},
        {"data": {"values": [{}]}, "mark": {"type": "rule", "color": "#333"},
         "encoding": {"x": {"datum": 0, "type": "quantitative", "axis": {"orient": "top", "values": [0, 5, 10], "title": "Indeterminata"}}}}
      ],
      "resolve": {"axis": {"x": "independent"}}
    },
    {
      "width": 38, "height": 297.4, "data": {"name": "zones"},
      "layer": [
        {"mark": {"type": "text", "fontSize": 11.7, "color": "#000", "baseline": "middle"},
         "encoding": {"x": {"datum": 19, "type": "quantitative", "scale": {"domain": [0, 38], "range": [0, 38], "nice": false}, "axis": null},
                      "y": {"field": "mid", "type": "quantitative", "scale": {"domain": [26.8, 161.5], "reverse": true, "nice": false, "zero": false}, "axis": null},
                      "text": {"field": "zone"}}},
        {"transform": [{"filter": "datum.top > 30"}], "mark": {"type": "rule", "color": "#4d4d4d"}, "encoding": {"y": {"field": "top", "type": "quantitative"}}},
        {"data": {"values": [{}]}, "mark": {"type": "rule", "color": "#333"}, "encoding": {"x": {"datum": 0, "type": "quantitative", "axis": null}}},
        {"data": {"values": [{}]}, "mark": {"type": "rule", "color": "#333"}, "encoding": {"x": {"datum": 38, "type": "quantitative", "axis": null}}},
        {"data": {"values": [{}]}, "mark": {"type": "text", "align": "center", "baseline": "alphabetic", "fontSize": 14, "color": "#000", "text": "Zone"},
         "encoding": {"x": {"datum": 19, "type": "quantitative", "axis": null}, "y": {"datum": 24.8, "type": "quantitative"}}}
      ]
    }
  ]
}
